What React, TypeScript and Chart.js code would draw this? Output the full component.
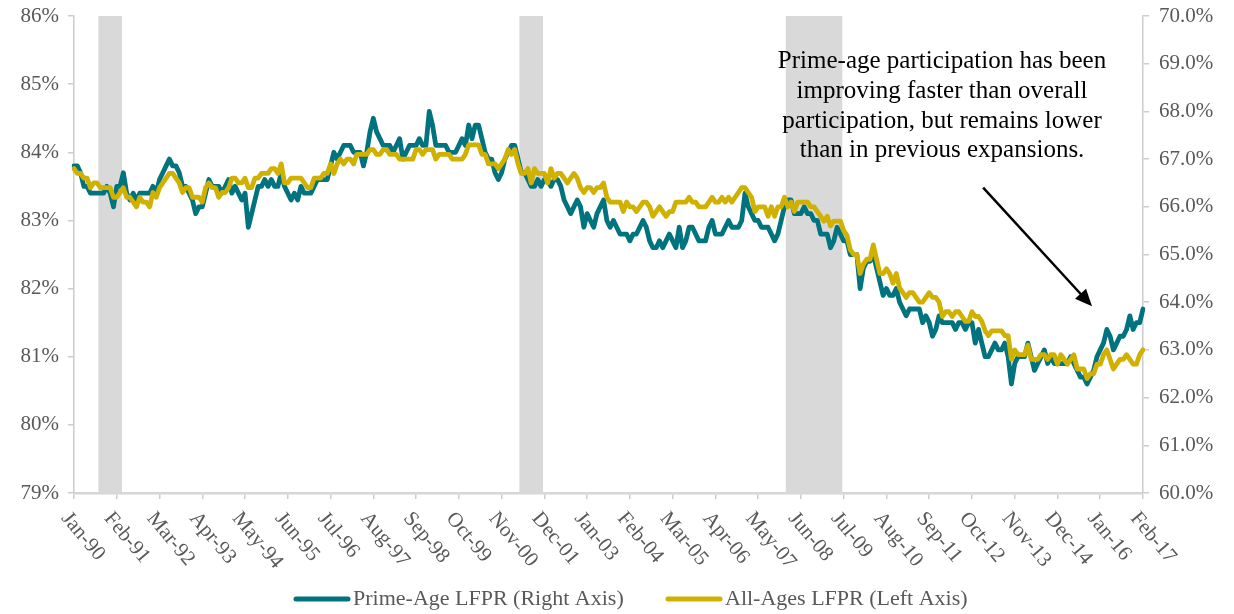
import { useEffect, useRef } from 'react';
import { Chart, registerables } from 'chart.js';

Chart.register(...registerables);

const FONT = "'Liberation Serif', 'Times New Roman', serif";
const AXIS_TEXT = '#595959';
const AXIS_LINE = '#cccccc';
const TEAL = '#00737e';
const GOLD = '#d0b000';
const RECESSION_FILL = '#d9d9d9';

// Monthly categories, Jan-90 through Feb-17
const MONTH_NAMES = ['Jan', 'Feb', 'Mar', 'Apr', 'May', 'Jun', 'Jul', 'Aug', 'Sep', 'Oct', 'Nov', 'Dec'];
const FIRST_YEAR = 1990;
const MONTH_COUNT = 326;
const monthLabels: string[] = Array.from({ length: MONTH_COUNT }, (_, i) => {
  const yy = (FIRST_YEAR + Math.floor(i / 12)) % 100;
  return `${MONTH_NAMES[i % 12]}-${String(yy).padStart(2, '0')}`;
});

// Axis labels shown under the x axis
const tickLabels = [
  'Jan-90', 'Feb-91', 'Mar-92', 'Apr-93', 'May-94', 'Jun-95', 'Jul-96', 'Aug-97', 'Sep-98',
  'Oct-99', 'Nov-00', 'Dec-01', 'Jan-03', 'Feb-04', 'Mar-05', 'Apr-06', 'May-07', 'Jun-08',
  'Jul-09', 'Aug-10', 'Sep-11', 'Oct-12', 'Nov-13', 'Dec-14', 'Jan-16', 'Feb-17',
];

// Prime-age (25-54) labor force participation rate, %
const primeAge1990s = [
  83.8, 83.8, 83.7, 83.5, 83.5, 83.4, 83.4, 83.4, 83.4, 83.4, 83.5, 83.4,
  83.2, 83.5, 83.5, 83.7, 83.4, 83.3, 83.4, 83.3, 83.4, 83.4, 83.4, 83.4,
  83.5, 83.4, 83.6, 83.7, 83.8, 83.9, 83.8, 83.8, 83.7, 83.5, 83.5, 83.4,
  83.3, 83.1, 83.2, 83.2, 83.4, 83.6, 83.5, 83.5, 83.5, 83.4, 83.5, 83.6,
  83.4, 83.5, 83.4, 83.3, 83.4, 82.9, 83.1, 83.3, 83.5, 83.5, 83.6, 83.5,
  83.6, 83.5, 83.5, 83.7, 83.5, 83.4, 83.3, 83.4, 83.3, 83.5, 83.4, 83.4,
  83.4, 83.5, 83.6, 83.6, 83.6, 83.6, 83.8, 84.0, 83.9, 84.0, 84.1, 84.1,
  84.1, 84.0, 84.0, 84.0, 83.8, 84.0, 84.3, 84.5, 84.3, 84.2, 84.1, 84.1,
  84.1, 84.0, 84.1, 84.2, 83.9, 84.0, 84.1, 84.1, 84.1, 84.2, 84.1, 84.1,
  84.6, 84.4, 84.1, 84.1, 84.1, 84.1, 84.0, 84.0, 84.0, 84.1, 84.2, 84.1,
];
const primeAge2000s = [
  84.4, 84.2, 84.4, 84.4, 84.2, 84.0, 83.9, 83.9, 83.7, 83.6, 83.7, 83.9,
  84.0, 84.1, 84.1, 83.9, 83.7, 83.7, 83.6, 83.5, 83.5, 83.6, 83.5, 83.6,
  83.6, 83.5, 83.6, 83.6, 83.5, 83.3, 83.2, 83.1, 83.2, 83.3, 83.2, 82.9,
  83.1, 83.0, 82.9, 83.1, 83.2, 83.3, 83.0, 82.9, 83.0, 82.9, 82.8, 82.8,
  82.8, 82.7, 82.8, 82.8, 82.9, 83.0, 82.9, 82.7, 82.6, 82.6, 82.7, 82.6,
  82.7, 82.8, 82.7, 82.6, 82.9, 82.6, 82.7, 82.9, 82.9, 82.8, 82.7, 82.7,
  82.7, 82.9, 83.0, 82.8, 82.8, 82.8, 82.9, 83.0, 82.9, 82.9, 82.9, 83.0,
  83.4, 83.2, 83.1, 83.0, 83.0, 82.9, 82.9, 82.9, 82.8, 82.7, 82.8, 83.0,
  83.2, 83.3, 83.3, 83.1, 83.1, 83.1, 83.2, 83.1, 83.1, 83.0, 83.0, 82.8,
  82.8, 82.8, 82.6, 82.7, 82.9, 82.8, 82.7, 82.7, 82.5, 82.5, 82.5, 82.0,
];
const primeAge2010s = [
  82.3, 82.4, 82.4, 82.5, 82.3, 82.1, 81.9, 82.0, 81.9, 81.9, 82.0, 81.8,
  81.7, 81.6, 81.7, 81.7, 81.7, 81.7, 81.5, 81.6, 81.5, 81.3, 81.4, 81.6,
  81.5, 81.5, 81.5, 81.5, 81.4, 81.5, 81.5, 81.4, 81.5, 81.5, 81.2, 81.4,
  81.2, 81.0, 81.0, 81.1, 81.2, 81.1, 81.1, 81.2, 81.0, 80.6, 80.9, 81.0,
  81.0, 81.0, 81.2, 81.0, 80.8, 80.9, 81.0, 81.1, 80.9, 81.0, 80.9, 80.9,
  80.9, 80.9, 80.9, 81.0, 80.9, 80.8, 80.7, 80.7, 80.6, 80.7, 80.8, 81.0,
  81.1, 81.2, 81.4, 81.3, 81.1, 81.2, 81.3, 81.3, 81.4, 81.6, 81.4, 81.5,
  81.5, 81.7,
];

// All-ages (16+) labor force participation rate, %
const allAges1990s = [
  66.8, 66.7, 66.7, 66.6, 66.6, 66.4, 66.5, 66.5, 66.4, 66.4, 66.4, 66.4,
  66.2, 66.2, 66.3, 66.4, 66.2, 66.2, 66.1, 66.0, 66.2, 66.1, 66.1, 66.0,
  66.3, 66.2, 66.4, 66.5, 66.6, 66.7, 66.7, 66.6, 66.5, 66.3, 66.4, 66.4,
  66.2, 66.2, 66.2, 66.1, 66.4, 66.5, 66.4, 66.4, 66.2, 66.3, 66.3, 66.4,
  66.6, 66.6, 66.5, 66.5, 66.6, 66.4, 66.4, 66.6, 66.6, 66.7, 66.7, 66.7,
  66.8, 66.8, 66.7, 66.9, 66.5, 66.5, 66.6, 66.6, 66.6, 66.6, 66.5, 66.4,
  66.4, 66.6, 66.6, 66.6, 66.7, 66.7, 66.9, 66.7, 66.9, 67.0, 66.9, 67.0,
  67.0, 66.9, 67.1, 67.1, 67.1, 67.1, 67.2, 67.2, 67.1, 67.1, 67.2, 67.2,
  67.1, 67.1, 67.1, 67.0, 67.0, 67.0, 67.0, 67.0, 67.2, 67.2, 67.1, 67.2,
  67.2, 67.2, 67.0, 67.1, 67.1, 67.1, 67.1, 67.0, 67.0, 67.0, 67.0, 67.1,
];
const allAges2000s = [
  67.3, 67.3, 67.3, 67.3, 67.1, 67.1, 66.9, 66.9, 66.9, 66.8, 66.9, 67.0,
  67.2, 67.1, 67.2, 66.9, 66.7, 66.7, 66.8, 66.5, 66.8, 66.7, 66.7, 66.7,
  66.5, 66.8, 66.6, 66.7, 66.7, 66.6, 66.5, 66.6, 66.7, 66.6, 66.4, 66.3,
  66.4, 66.4, 66.3, 66.4, 66.4, 66.5, 66.2, 66.1, 66.1, 66.1, 66.1, 65.9,
  66.1, 66.0, 66.0, 65.9, 66.0, 66.1, 66.1, 66.0, 65.8, 65.9, 66.0, 65.9,
  65.8, 65.9, 65.9, 66.1, 66.1, 66.1, 66.1, 66.2, 66.1, 66.1, 66.0, 66.0,
  66.0, 66.1, 66.2, 66.1, 66.1, 66.2, 66.1, 66.2, 66.1, 66.2, 66.3, 66.4,
  66.4, 66.3, 66.2, 65.9, 66.0, 66.0, 66.0, 65.8, 66.0, 65.8, 66.0, 66.0,
  66.2, 66.0, 66.1, 65.9, 66.1, 66.1, 66.1, 66.1, 66.0, 66.0, 65.9, 65.8,
  65.7, 65.8, 65.6, 65.7, 65.7, 65.7, 65.5, 65.4, 65.1, 65.0, 65.0, 64.6,
];
const allAges2010s = [
  64.8, 64.9, 64.9, 65.2, 64.9, 64.6, 64.6, 64.7, 64.6, 64.4, 64.6, 64.3,
  64.2, 64.1, 64.2, 64.2, 64.1, 64.0, 64.0, 64.1, 64.2, 64.1, 64.1, 64.0,
  63.7, 63.8, 63.8, 63.7, 63.8, 63.8, 63.7, 63.6, 63.6, 63.8, 63.7, 63.7,
  63.6, 63.4, 63.3, 63.4, 63.4, 63.4, 63.4, 63.3, 63.3, 62.8, 63.0, 62.9,
  62.9, 62.9, 63.1, 62.8, 62.8, 62.8, 62.9, 62.9, 62.8, 62.9, 62.9, 62.7,
  62.9, 62.8, 62.7, 62.8, 62.9, 62.6, 62.6, 62.6, 62.4, 62.5, 62.5, 62.7,
  62.7, 62.9, 63.0, 62.8, 62.6, 62.7, 62.8, 62.8, 62.9, 62.8, 62.7, 62.7,
  62.9, 63.0,
];

const primeAge = [...primeAge1990s, ...primeAge2000s, ...primeAge2010s];
const allAges = [...allAges1990s, ...allAges2000s, ...allAges2010s];

// Shaded recession months (first and last month of each band)
const recessionStarts = ['Sep-90', 'May-01', 'Feb-08'];
const recessionEnds = ['Mar-91', 'Nov-01', 'Jun-09'];

const SERIES_PRIME = 'Prime-Age LFPR (Right Axis)';
const SERIES_ALL = 'All-Ages LFPR (Left Axis)';

// Callout text and its arrow, placed in data coordinates (month index, left-axis %)
const noteLines = [
  'Prime-age participation has been',
  'improving faster than overall',
  'participation, but remains lower',
  'than in previous expansions.',
];
const noteAnchor = { month: 263.9, value: 85.33 };
const arrowFrom = { month: 276.4, value: 83.48 };
const arrowTo = { month: 309.5, value: 81.74 };

const recessionFlags = monthLabels.map((_, i) => {
  for (let k = 0; k < recessionStarts.length; k++) {
    const a = monthLabels.indexOf(recessionStarts[k]);
    const b = monthLabels.indexOf(recessionEnds[k]);
    if (i >= a && i <= b) return 1;
  }
  return null;
});

const LABEL_ANGLE = (50 * Math.PI) / 180;

const decorPlugin = {
  id: 'decor',
  afterDraw(chart: any) {
    const { ctx, chartArea, scales } = chart;
    const xs = scales.x;
    const ys = scales.y;
    ctx.save();

    // rotated month labels under the axis
    ctx.fillStyle = AXIS_TEXT;
    ctx.font = `21px ${FONT}`;
    ctx.textAlign = 'left';
    ctx.textBaseline = 'middle';
    tickLabels.forEach((lbl) => {
      const px = xs.getPixelForValue(monthLabels.indexOf(lbl));
      ctx.save();
      ctx.translate(px - 9, chartArea.bottom + 22);
      ctx.rotate(LABEL_ANGLE);
      ctx.fillText(lbl, 0, 0);
      ctx.restore();
    });

    // legend
    const legendY = 599;
    const items = [
      { label: chart.data.datasets[1].label, color: TEAL, x: 296 },
      { label: chart.data.datasets[0].label, color: GOLD, x: 668 },
    ];
    ctx.font = `22px ${FONT}`;
    items.forEach((it) => {
      ctx.strokeStyle = it.color;
      ctx.lineWidth = 5;
      ctx.lineCap = 'round';
      ctx.beginPath();
      ctx.moveTo(it.x, legendY);
      ctx.lineTo(it.x + 52, legendY);
      ctx.stroke();
      ctx.fillStyle = AXIS_TEXT;
      ctx.textAlign = 'left';
      ctx.textBaseline = 'middle';
      ctx.fillText(it.label, it.x + 57, legendY);
    });

    // callout
    ctx.fillStyle = '#000000';
    ctx.font = `25px ${FONT}`;
    ctx.textAlign = 'center';
    ctx.textBaseline = 'middle';
    const nx = xs.getPixelForValue(noteAnchor.month);
    const ny = ys.getPixelForValue(noteAnchor.value);
    noteLines.forEach((line, k) => ctx.fillText(line, nx, ny + k * 29.7));

    const x0 = xs.getPixelForValue(arrowFrom.month);
    const y0 = ys.getPixelForValue(arrowFrom.value);
    const x1 = xs.getPixelForValue(arrowTo.month);
    const y1 = ys.getPixelForValue(arrowTo.value);
    const ang = Math.atan2(y1 - y0, x1 - x0);
    const headLen = 17;
    const headHalf = 7.5;
    const bx = x1 - headLen * Math.cos(ang);
    const by = y1 - headLen * Math.sin(ang);
    ctx.strokeStyle = '#000000';
    ctx.lineWidth = 2.5;
    ctx.lineCap = 'butt';
    ctx.beginPath();
    ctx.moveTo(x0, y0);
    ctx.lineTo(bx + 2 * Math.cos(ang), by + 2 * Math.sin(ang));
    ctx.stroke();
    ctx.fillStyle = '#000000';
    ctx.beginPath();
    ctx.moveTo(x1, y1);
    ctx.lineTo(bx + headHalf * Math.sin(ang), by - headHalf * Math.cos(ang));
    ctx.lineTo(bx - headHalf * Math.sin(ang), by + headHalf * Math.cos(ang));
    ctx.closePath();
    ctx.fill();

    ctx.restore();
  },
};

// Fixed axis sizes so the plot area sits where the layout wants it
const fixWidth = (w: number) => (s: any) => {
  s.width = w;
  s.paddingTop = 0;
  s.paddingBottom = 0;
};

export default function App() {
  const canvasRef = useRef<HTMLCanvasElement | null>(null);

  useEffect(() => {
    const canvas = canvasRef.current;
    if (!canvas) return;
    Chart.defaults.font.family = FONT;

    const chart = new Chart(canvas, {
      type: 'line',
      data: {
        labels: monthLabels,
        datasets: [
          {
            type: 'line',
            label: SERIES_ALL,
            data: allAges,
            yAxisID: 'y2',
            borderColor: GOLD,
            backgroundColor: GOLD,
            borderWidth: 4.8,
            pointRadius: 0,
            tension: 0,
            borderJoinStyle: 'round',
            borderCapStyle: 'round',
            order: 1,
          },
          {
            type: 'line',
            label: SERIES_PRIME,
            data: primeAge,
            yAxisID: 'y',
            borderColor: TEAL,
            backgroundColor: TEAL,
            borderWidth: 4.8,
            pointRadius: 0,
            tension: 0,
            borderJoinStyle: 'round',
            borderCapStyle: 'round',
            order: 2,
          },
          {
            type: 'bar',
            label: 'Recession',
            data: recessionFlags,
            yAxisID: 'yRec',
            backgroundColor: RECESSION_FILL,
            borderWidth: 0,
            barPercentage: 1,
            categoryPercentage: 1,
            order: 3,
          },
        ] as any,
      },
      options: {
        responsive: false,
        animation: false,
        events: [],
        layout: { padding: { top: 16, left: 0, right: 0, bottom: 0 } },
        plugins: {
          legend: { display: false },
          tooltip: { enabled: false },
          title: { display: false },
        },
        scales: {
          x: {
            type: 'category',
            offset: false,
            grid: {
              display: true,
              offset: false,
              drawOnChartArea: false,
              drawTicks: true,
              tickLength: 6,
              lineWidth: 1.5,
              color: (c: any) => (c.index % 13 === 0 ? AXIS_LINE : 'rgba(0,0,0,0)'),
            },
            border: { display: true, color: '#d6d6d6', width: 2.5 },
            ticks: { display: false, autoSkip: false },
            afterFit: (s: any) => {
              s.height = 121;
              s.paddingLeft = 0;
              s.paddingRight = 0;
            },
          },
          y: {
            type: 'linear',
            position: 'left',
            min: 79,
            max: 86,
            ticks: {
              stepSize: 1,
              color: AXIS_TEXT,
              font: { family: FONT, size: 21 },
              padding: 9,
              callback: (v: any) => `${v}%`,
            },
            grid: { drawOnChartArea: false, drawTicks: true, tickLength: 6, color: AXIS_LINE, lineWidth: 1.5 },
            border: { display: true, color: AXIS_LINE, width: 1.5 },
            afterFit: fixWidth(74),
          },
          y2: {
            type: 'linear',
            position: 'right',
            min: 60,
            max: 70,
            ticks: {
              stepSize: 1,
              color: AXIS_TEXT,
              font: { family: FONT, size: 21 },
              padding: 10,
              callback: (v: any) => `${Number(v).toFixed(1)}%`,
            },
            grid: { drawOnChartArea: false, drawTicks: true, tickLength: 6, color: AXIS_LINE, lineWidth: 1.5 },
            border: { display: true, color: AXIS_LINE, width: 1.5 },
            afterFit: fixWidth(91),
          },
          yRec: {
            type: 'linear',
            display: false,
            min: 0,
            max: 1,
          },
        },
      } as any,
      plugins: [decorPlugin],
    });

    return () => chart.destroy();
  }, []);

  return (
    <div style={{ position: 'absolute', left: 0, top: 0, width: 1234, height: 614, background: '#ffffff' }}>
      <canvas ref={canvasRef} width={1234} height={614} style={{ display: 'block' }} />
    </div>
  );
}
